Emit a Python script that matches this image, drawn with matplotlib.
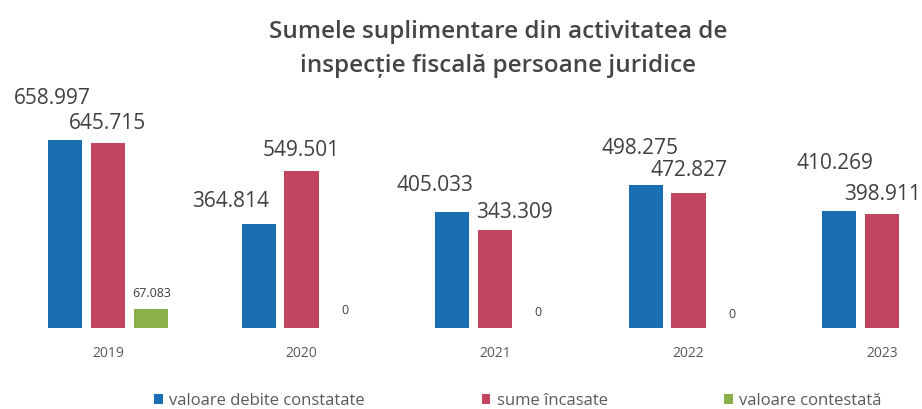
import numpy as np
import matplotlib
matplotlib.use("Agg")
import matplotlib.pyplot as plt

years = ["2019", "2020", "2021", "2022", "2023"]
debite = [658.997, 364.814, 405.033, 498.275, 410.269]
incasate = [645.715, 549.501, 343.309, 472.827, 398.911]
contestata = [67.083, 0, 0, 0, np.nan]

labels_debite = ["658.997", "364.814", "405.033", "498.275", "410.269"]
labels_incasate = ["645.715", "549.501", "343.309", "472.827", "398.911"]
labels_contestata = ["67.083", "0", "0", "0", ""]

# label offsets from bar top (pixels), as placed in the original
off_debite = [(-13, 41), (-28, 22), (-17, 27), (-6, 37), (-4, 47)]
off_incasate = [(0, 20), (0, 20), (19, 17), (0, 22), (0, 19)]
off_contestata = [(1, 15), (0, 18), (0, 15), (0, 13), (0, 0)]

c_blue = "#1a6fb2"
c_red = "#c2455f"
c_green = "#8ab04c"
c_text = "#404040"

plt.rcParams["font.family"] = ["Open Sans", "DejaVu Sans"]

fig = plt.figure(figsize=(9.22, 4.09), dpi=100)
ax = fig.add_axes([0, 81 / 409, 1, 328 / 409])

x = np.arange(len(years))
step = 0.222
w = 0.176

b1 = ax.bar(x - step, debite, w, color=c_blue, label="valoare debite constatate")
b2 = ax.bar(x, incasate, w, color=c_red, label="sume încasate")
b3 = ax.bar(x + step, np.nan_to_num(contestata), w, color=c_green, label="valoare contestată")

px = 72 / 100  # pixels -> points

def put_labels(bars, texts, offs, size):
    for bar, t, (dx, dy) in zip(bars, texts, offs):
        if not t:
            continue
        ax.annotate(t, (bar.get_x() + bar.get_width() / 2, bar.get_height()),
                    xytext=(dx * px, dy * px), textcoords="offset points",
                    ha="center", va="center", fontsize=size, color=c_text)

put_labels(b1, labels_debite, off_debite, 15)
put_labels(b2, labels_incasate, off_incasate, 15)
put_labels(b3, labels_contestata, off_contestata, 9)

ax.set_xlim(-108 / 193.5, (922 - 108) / 193.5)
ax.set_ylim(0, 328 / 0.286)
ax.set_xticks(x)
ax.set_xticklabels(years, fontsize=10, color="#595959")
ax.tick_params(axis="x", length=0, pad=13)
ax.set_yticks([])
for s in ax.spines.values():
    s.set_visible(False)

fig.text(0.54, 1 - 32 / 409, "Sumele suplimentare din activitatea de",
         ha="center", va="center", fontsize=17.5, weight="semibold", color="#454545")
fig.text(0.54, 1 - 66 / 409, "inspecție fiscală persoane juridice",
         ha="center", va="center", fontsize=17.5, weight="semibold", color="#454545")

fig.legend(handles=[b1, b2, b3], loc="center", bbox_to_anchor=(0.562, 1 - 401 / 409),
           ncol=3, frameon=False, fontsize=12, labelcolor="#5a5a5a",
           handlelength=0.5, handleheight=0.5, handletextpad=0.4, columnspacing=7.0)

fig.savefig("out.png", dpi=100, facecolor="white")
